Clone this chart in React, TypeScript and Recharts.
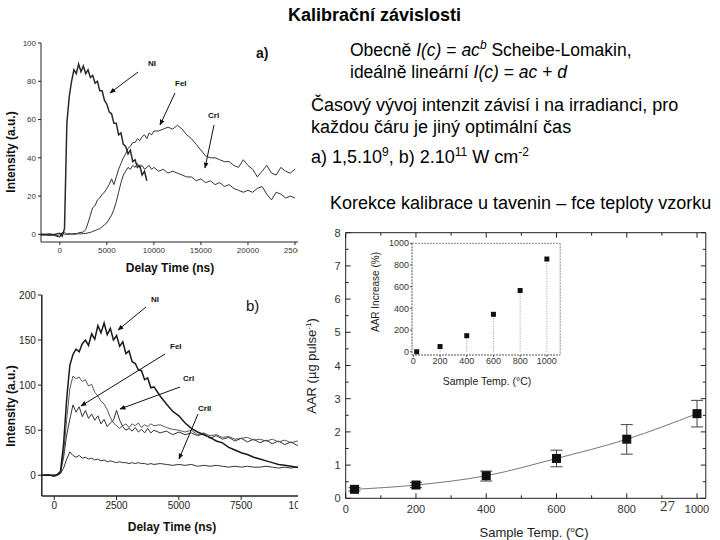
import { LineChart, Line, XAxis, YAxis, ComposedChart, Scatter, ErrorBar } from 'recharts'

const SANS = '"Liberation Sans", Arial, sans-serif'

// a) 1,5.10^9 W cm-2
const timeA = [
  -2000, -1000, 0, 250, 500, 750, 1000, 1250, 1500, 1750,
  2000, 2250, 2500, 2750, 3000, 3250, 3500, 3750, 4000, 4250,
  4500, 4750, 5000, 5250, 5500, 5750, 6000, 6250, 6500, 6750,
  7000, 7250, 7500, 7750, 8000, 8250, 8500, 8750, 9000, 9250,
  9500, 9750, 10000, 10500, 11000, 11500, 12000, 12500, 13000, 13500,
  14000, 14500, 15000, 15500, 16000, 16500, 17000, 17500, 18000, 18500,
  19000, 19500, 20000, 20500, 21000, 21500, 22000, 22500, 23000, 23500,
  24000, 24500, 25000,
]
const niA = [
  0, -0.5, 0.5, -1, 3, 58, 72, 80, 86, 84,
  89, 85, 88, 84, 86, 82, 83, 79, 80, 75,
  75, 70, 68, 64, 63, 58, 58, 52, 53, 47,
  46, 42, 44, 38, 39, 35, 36, 31, 33, 28,
  null, null, null, null, null, null, null, null, null, null,
  null, null, null, null, null, null, null, null, null, null,
  null, null, null, null, null, null, null, null, null, null,
  null, null, null,
]
const feA = [
  -0.5, 0, -1.5, 0.5, 1, 0, 0.5, 0, 0.5, 0.3,
  0.8, 1, 1.2, 2.5, 6, 10, 14, 15, 18, 19,
  21, 22, 24, 26, 29, 26, 30, 34, 37, 40,
  42, 45, 46, 48, 48, 50, 49, 51, 52, 50,
  53, 52, 54, 54, 55, 56, 55, 57, 55, 52,
  50, 47, 44, 41, 40, 40, 39, 38, 38, 36,
  35, 39, 36, 34, 30, 33, 36, 32, 31, 35,
  33, 32, 34,
]
const crA = [
  0, 0.3, -1, 1, 0, 0.2, 0, 0.3, 0, 0.2,
  0.3, 0.2, 0.5, 0.4, 0.8, 1, 1.5, 2, 2.5, 3,
  4, 5, 6, 8, 10, 13, 17, 22, 27, 31,
  33, 35, 34, 36, 35, 37, 35, 36, 34, 35,
  36, 34, 35, 33, 34, 32, 33, 32, 31, 30,
  30, 28, 29, 27, 28, 26, 27, 25, 26, 24,
  23, 22, 23, 22, 24, 25, 21, 18, 22, 21,
  19, 20, 19,
]
const ticksAX = [0, 5000, 10000, 15000, 20000, 25000]
const ticksAY = [0, 20, 40, 60, 80, 100]

// b) 2.10^11 W cm-2
const timeB = [
  -500, -250, 0, 125, 250, 375, 500, 625, 750, 875,
  1000, 1125, 1250, 1375, 1500, 1625, 1750, 1875, 2000, 2125,
  2250, 2375, 2500, 2625, 2750, 2875, 3000, 3125, 3250, 3375,
  3500, 3625, 3750, 3875, 4000, 4250, 4500, 4750, 5000, 5250,
  5500, 5750, 6000, 6250, 6500, 6750, 7000, 7250, 7500, 7750,
  8000, 8250, 8500, 8750, 9000, 9250, 9500, 9750, 10000,
]
const niB = [
  0, 0.5, -1, 1, 4, 35, 85, 122, 134, 140,
  137, 146, 150, 144, 157, 151, 166, 158, 169, 156,
  163, 150, 155, 143, 148, 135, 138, 126, 124, 117,
  116, 106, 108, 97, 98, 88, 79, 71, 66, 58,
  52, 48, 45, 42, 38, 36, 31, 28, 25, 23,
  20, 18, 16, 14, 12, 11, 10, 9, 7,
]
const feB = [
  0, 0, 0.5, 0, 2, 25, 62, 96, 110, 107,
  109, 104, 106, 99, 101, 92, 88, 82, 79, 73,
  64, 58, 55, 52, 55, 57, 53, 57, 55, 58,
  53, 56, 54, 57, 55, 56, 53, 51, 50, 48,
  50, 45, 47, 44, 45, 42, 43, 40, 41, 42,
  39, 40, 38, 40, 37, 39, 36, 38, 37,
]
const crB = [
  0, 0, 0, 1, 3, 20, 45, 62, 78, 70,
  76, 65, 72, 63, 68, 61, 66, 57, 62, 54,
  58, 61, 72, 61, 54, 50, 52, 49, 53, 48,
  51, 47, 52, 47, 50, 47, 49, 45, 48, 45,
  47, 44, 46, 41, 44, 40, 42, 38, 41, 37,
  40, 36, 39, 35, 38, 34, 37, 33, 36,
]
const crIIB = [
  0, 0, 0, 0, 2, 8, 18, 26, 22, 20,
  22, 19, 20, 18, 19, 17, 18, 16, 17, 15,
  16, 15, 14, 15, 14, 14, 13, 14, 13, 14,
  13, 13, 12, 13, 12, 13, 12, 11, 12, 11,
  12, 10, 11, 10, 11, 10, 9, 10, 9, 10,
  9, 9, 10, 9, 8, 9, 8, 9, 8,
]
const ticksBX = [0, 2500, 5000, 7500, 10000]
const ticksBY = [0, 50, 100, 150, 200]

// AAR vs sample temperature
const temps = [25, 200, 400, 600, 800, 1000]
const aar = [0.27, 0.4, 0.68, 1.2, 1.78, 2.55]
const aarLow = [0.22, 0.32, 0.52, 0.95, 1.33, 2.15]
const aarHigh = [0.32, 0.48, 0.82, 1.45, 2.22, 2.95]
const ticksTemp = [0, 200, 400, 600, 800, 1000]
const minorTemp = [0, 100, 200, 300, 400, 500, 600, 700, 800, 900, 1000]
const ticksAar = [0, 1, 2, 3, 4, 5, 6, 7, 8]
const minorAar = [0, 0.5, 1, 1.5, 2, 2.5, 3, 3.5, 4, 4.5, 5, 5.5, 6, 6.5, 7, 7.5, 8]

// inset: AAR increase (%)
const aarIncrease = [0, 48, 148, 345, 565, 855]
const ticksInc = [0, 200, 400, 600, 800, 1000]

const rowsA = timeA.map((t, i) => ({ t, ni: niA[i], fe: feA[i], cr: crA[i] }))
const rowsB = timeB.map((t, i) => ({ t, ni: niB[i], fe: feB[i], cr: crB[i], cr2: crIIB[i] }))
const rowsAar = temps.map((t, i) => ({ t, aar: aar[i], err: [aar[i] - aarLow[i], aarHigh[i] - aar[i]] }))
const rowsInc = temps.map((t, i) => ({ t, inc: aarIncrease[i], drop: [aarIncrease[i], 0] }))

const ink = '#222'
const tickA = { fontSize: 8, fill: '#333', fontFamily: SANS }
const tickB = { fontSize: 10, fill: '#222', fontFamily: SANS }
const tickInset = { fontSize: 9, fill: '#333', fontFamily: SANS }

// frame ticks pointing into the plot; labels only on the major values
function BottomTick(props: any) {
  const { x, y, payload } = props
  const major = ticksTemp.includes(payload.value)
  return (
    <g>
      <line x1={x} y1={y} x2={x} y2={y - (major ? 5 : 3)} stroke={ink} />
      {major && <text x={x} y={y + 15} textAnchor="middle" fontSize={11} fontFamily={SANS} fill="#333">{payload.value}</text>}
    </g>
  )
}
function TopTick(props: any) {
  const { x, y, payload } = props
  const major = ticksTemp.includes(payload.value)
  return <line x1={x} y1={y} x2={x} y2={y + (major ? 5 : 3)} stroke={ink} />
}
function LeftTick(props: any) {
  const { x, y, payload } = props
  const major = ticksAar.includes(payload.value)
  return (
    <g>
      <line x1={x} y1={y} x2={x + (major ? 5 : 3)} y2={y} stroke={ink} />
      {major && <text x={x - 5} y={y + 4} textAnchor="end" fontSize={11} fontFamily={SANS} fill="#333">{payload.value}</text>}
    </g>
  )
}
function RightTick(props: any) {
  const { x, y, payload } = props
  const major = ticksAar.includes(payload.value)
  return <line x1={x} y1={y} x2={x - (major ? 5 : 3)} y2={y} stroke={ink} />
}

function ChartA() {
  return (
    <div style={{ position: 'absolute', left: 0, top: 0, width: 298, height: 262, overflow: 'hidden' }}>
      <LineChart width={310} height={262} data={rowsA} margin={{ top: 43, right: 5.6, bottom: 0, left: 5 }}>
        <XAxis dataKey="t" type="number" domain={[-2000, 26000]} ticks={ticksAX} height={20}
          tick={tickA} tickSize={3} axisLine={{ stroke: ink }} tickLine={{ stroke: ink }} />
        <YAxis type="number" domain={[-4, 100]} ticks={ticksAY} width={36}
          tick={tickA} tickSize={3} axisLine={{ stroke: ink }} tickLine={{ stroke: ink }} />
        <Line dataKey="fe" stroke="#333" strokeWidth={1} dot={false} isAnimationActive={false} />
        <Line dataKey="cr" stroke="#333" strokeWidth={1} dot={false} isAnimationActive={false} />
        <Line dataKey="ni" stroke="#2a2a2a" strokeWidth={1.5} dot={false} isAnimationActive={false} />
      </LineChart>
    </div>
  )
}

function ChartB() {
  return (
    <div style={{ position: 'absolute', left: 0, top: 280, width: 298, height: 240, overflow: 'hidden' }}>
      <LineChart width={315} height={236} data={rowsB} margin={{ top: 15, right: 5.3, bottom: 0, left: 7.8 }}>
        <XAxis dataKey="t" type="number" domain={[-500, 10250]} ticks={ticksBX} height={20}
          tick={tickB} tickSize={4} axisLine={{ stroke: ink, strokeWidth: 1.5 }} tickLine={{ stroke: ink }} />
        <YAxis type="number" domain={[-23, 200]} ticks={ticksBY} width={34}
          tick={tickB} tickSize={4} axisLine={{ stroke: ink, strokeWidth: 1.5 }} tickLine={{ stroke: ink }} />
        <Line dataKey="cr2" stroke="#333" strokeWidth={1} dot={false} isAnimationActive={false} />
        <Line dataKey="cr" stroke="#333" strokeWidth={1} dot={false} isAnimationActive={false} />
        <Line dataKey="fe" stroke="#444" strokeWidth={0.9} dot={false} isAnimationActive={false} />
        <Line dataKey="ni" stroke="#1a1a1a" strokeWidth={1.5} dot={false} isAnimationActive={false} />
      </LineChart>
    </div>
  )
}

function MainChart() {
  return (
    <div style={{ position: 'absolute', left: 300, top: 220 }}>
      <ComposedChart width={420} height={320} data={rowsAar} margin={{ top: 12.7, right: 14.2, bottom: 16.7, left: 15.7 }}>
        <XAxis dataKey="t" type="number" domain={[0, 1025]} ticks={minorTemp} height={25} interval={0}
          tick={BottomTick} tickLine={false} tickSize={0} tickMargin={0} axisLine={{ stroke: ink }} />
        <XAxis xAxisId="top" orientation="top" mirror dataKey="t" type="number" domain={[0, 1025]} ticks={minorTemp} interval={0}
          tick={TopTick} tickLine={false} tickSize={0} tickMargin={0} axisLine={{ stroke: ink }} />
        <YAxis type="number" domain={[0, 8]} ticks={minorAar} width={30} interval={0}
          tick={LeftTick} tickLine={false} tickSize={0} tickMargin={0} axisLine={{ stroke: ink }} />
        <YAxis yAxisId="right" orientation="right" mirror type="number" domain={[0, 8]} ticks={minorAar} interval={0}
          tick={RightTick} tickLine={false} tickSize={0} tickMargin={0} axisLine={{ stroke: ink }} />
        {/* binds the frame axes to the data so they get their ticks */}
        <Line xAxisId="top" yAxisId="right" dataKey="aar" stroke="none" dot={false} legendType="none" isAnimationActive={false} />
        <Line dataKey="aar" type="monotone" stroke="#777" strokeWidth={1} isAnimationActive={false}
          dot={(p: any) => <rect key={`sq${p.index}`} x={p.cx - 4.5} y={p.cy - 4.5} width={9} height={9} fill="#111" />}>
          <ErrorBar dataKey="err" width={6} stroke="#444" strokeWidth={1} direction="y" />
        </Line>
      </ComposedChart>
    </div>
  )
}

function InsetChart() {
  return (
    <div style={{ position: 'absolute', left: 360, top: 235 }}>
      <ComposedChart width={210} height={140} data={rowsInc} margin={{ top: 8.3, right: 9.8, bottom: 4, left: 22 }}>
        <XAxis dataKey="t" type="number" domain={[-10, 1100]} ticks={ticksInc} height={16}
          tick={tickInset} tickSize={2} tickMargin={1} axisLine={{ stroke: '#555', strokeDasharray: '2 1' }} tickLine={{ stroke: '#555' }} />
        <XAxis xAxisId="top" orientation="top" mirror dataKey="t" type="number" domain={[-10, 1100]} ticks={ticksInc}
          tick={false} tickLine={false} axisLine={{ stroke: '#888', strokeDasharray: '2 1' }} />
        <YAxis dataKey="inc" type="number" domain={[-30, 1000]} ticks={ticksInc} width={30}
          tick={tickInset} tickSize={2} tickMargin={1} axisLine={{ stroke: '#555', strokeDasharray: '2 1' }} tickLine={{ stroke: '#555' }} />
        <YAxis yAxisId="right" orientation="right" mirror type="number" domain={[-30, 1000]} ticks={ticksInc}
          tick={false} tickLine={false} axisLine={{ stroke: '#888', strokeDasharray: '2 1' }} />
        <Scatter data={rowsInc} dataKey="inc" isAnimationActive={false}
          shape={(p: any) => <rect x={p.cx - 2.5} y={p.cy - 2.5} width={5} height={5} fill="#111" />}>
          <ErrorBar dataKey="drop" width={0} stroke="#999" strokeWidth={1} strokeDasharray="1 1.5" direction="y" />
        </Scatter>
      </ComposedChart>
    </div>
  )
}

function Arrow({ x1, y1, x2, y2 }: { x1: number; y1: number; x2: number; y2: number }) {
  return <line x1={x1} y1={y1} x2={x2} y2={y2} stroke="#111" strokeWidth={1} markerEnd="url(#ah)" />
}

function Overlay() {
  const lab = { fontSize: 8, fontFamily: SANS, fill: '#111', fontWeight: 700 }
  const title = { fontSize: 12, fontFamily: SANS, fill: '#111', fontWeight: 700 }
  return (
    <svg width={720} height={540} style={{ position: 'absolute', left: 0, top: 0, pointerEvents: 'none' }}>
      <defs>
        <marker id="ah" viewBox="0 0 10 10" refX="9" refY="5" markerWidth="6" markerHeight="6" orient="auto-start-reverse">
          <path d="M0,1 L10,5 L0,9 z" fill="#111" />
        </marker>
      </defs>
      {/* chart a */}
      <text x={256} y={58} fontSize={14} fontWeight={700} fontFamily={SANS} fill="#111">a)</text>
      <text x={148} y={66} {...lab}>NI</text>
      <Arrow x1={138} y1={72} x2={110} y2={93} />
      <text x={175} y={86} {...lab}>FeI</text>
      <Arrow x1={175} y1={93} x2={160} y2={125} />
      <text x={208} y={118} {...lab}>CrI</text>
      <Arrow x1={214} y1={125} x2={205} y2={168} />
      <text transform="translate(15,152) rotate(-90)" textAnchor="middle" {...title}>Intensity (a.u.)</text>
      <text x={170} y={272} textAnchor="middle" {...title}>Delay Time (ns)</text>

      {/* chart b */}
      <text x={246} y={311} fontSize={15} fontFamily={SANS} fill="#111">b)</text>
      <text x={151} y={302} {...lab}>NI</text>
      <Arrow x1={146} y1={307} x2={118} y2={330} />
      <text x={170} y={349} {...lab}>FeI</text>
      <Arrow x1={165} y1={354} x2={81} y2={406} />
      <text x={183} y={381} {...lab}>CrI</text>
      <Arrow x1={180} y1={387} x2={120} y2={409} />
      <text x={198} y={411} {...lab}>CrII</text>
      <Arrow x1={198} y1={414} x2={179} y2={459} />
      <text transform="translate(15,406) rotate(-90)" textAnchor="middle" {...title}>Intensity (a.u.)</text>
      <text x={172} y={531} textAnchor="middle" {...title}>Delay Time (ns)</text>

      {/* AAR chart */}
      <text transform="translate(316,366) rotate(-90)" textAnchor="middle" fontSize={13} fontFamily={SANS} fill="#222">
        AAR (µg pulse<tspan dy={-5} fontSize={8}>-1</tspan><tspan dy={5}>)</tspan>
      </text>
      <text x={534} y={537} textAnchor="middle" fontSize={13} fontFamily={SANS} fill="#222">
        Sample Temp. (<tspan dy={-5} fontSize={8}>o</tspan><tspan dy={5}>C)</tspan>
      </text>
      <text transform="translate(379,292) rotate(-90)" textAnchor="middle" fontSize={10} fontFamily={SANS} fill="#222">AAR Increase (%)</text>
      <text x={487} y={385} textAnchor="middle" fontSize={10.5} fontFamily={SANS} fill="#222">Sample Temp. (°C)</text>
      <text x={660} y={511} fontSize={15} fontFamily='"Liberation Serif", "DejaVu Serif", serif' fill="#333">27</text>
    </svg>
  )
}

const sup = { fontSize: 12, verticalAlign: 'super', lineHeight: 0 } as const

function Texts() {
  const base = { position: 'absolute' as const, fontFamily: SANS, color: '#000', whiteSpace: 'nowrap' as const, lineHeight: '20px' }
  const p = { ...base, fontSize: 18 }
  return (
    <>
      <div style={{ ...base, left: 288, top: 5, fontSize: 18, fontWeight: 700 }}>Kalibrační závislosti</div>
      <div style={{ ...p, left: 350, top: 40, fontSize: 17.5 }}>
        Obecně <i>I(c)</i> = <i>ac</i><i style={sup}>b</i> Scheibe-Lomakin,
      </div>
      <div style={{ ...p, left: 350, top: 62, fontSize: 17.5 }}>
        ideálně lineární <i>I(c)</i> = <i>ac</i> + <i>d</i>
      </div>
      <div style={{ ...p, left: 311, top: 95 }}>Časový vývoj intenzit závisí i na irradianci, pro</div>
      <div style={{ ...p, left: 311, top: 117 }}>každou čáru je jiný optimální čas</div>
      <div style={{ ...p, left: 311, top: 147 }}>
        a) 1,5.10<span style={sup}>9</span>, b) 2.10<span style={sup}>11</span> W cm<span style={sup}>-2</span>
      </div>
      <div style={{ ...p, left: 330, top: 193 }}>Korekce kalibrace u tavenin – fce teploty vzorku</div>
    </>
  )
}

export default function App() {
  return (
    <div style={{ position: 'absolute', left: 0, top: 0, width: 720, height: 540, background: '#fff', overflow: 'hidden', fontFamily: SANS }}>
      <ChartA />
      <ChartB />
      <MainChart />
      <InsetChart />
      <Texts />
      <Overlay />
    </div>
  )
}
